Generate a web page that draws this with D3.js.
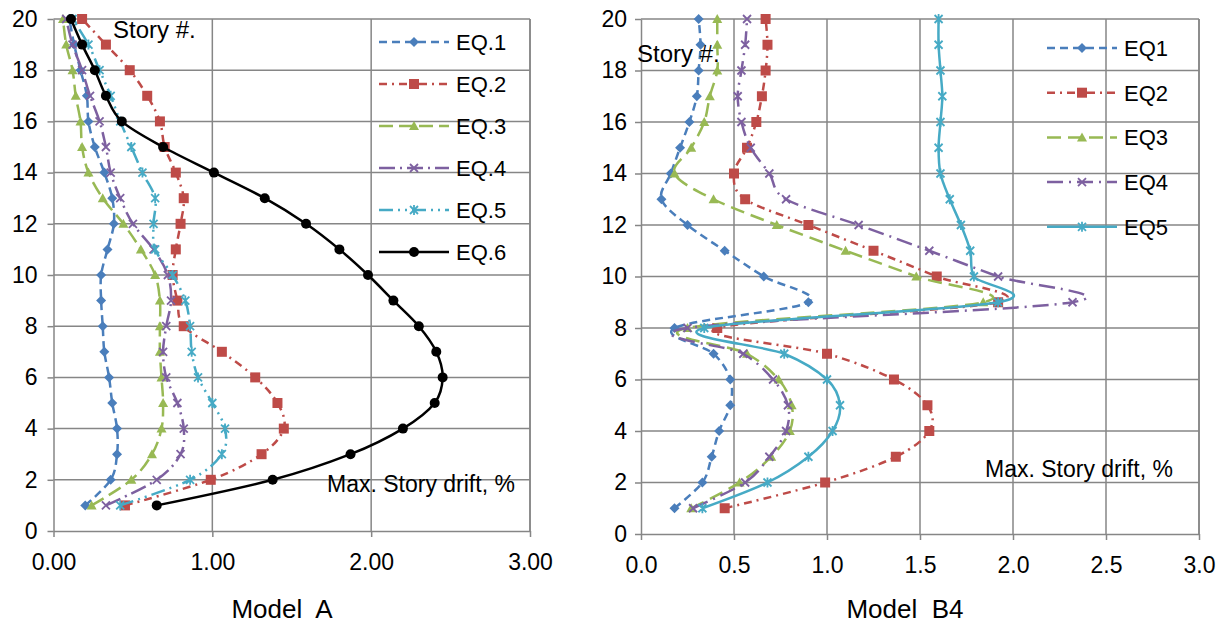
<!DOCTYPE html>
<html lang="en">
<head>
<meta charset="utf-8">
<title>Max. story drift - Model A / Model B4</title>
<style>
  body { margin: 0; background: #fff; font-family: "Liberation Sans", Arial, Helvetica, sans-serif; }
  .axis text { font-size: 23px; fill: #000; font-family: "Liberation Sans", Arial, sans-serif; }
  .axis path, .axis line { stroke: #868686; stroke-width: 1.5; }
</style>
</head>
<body>
<script src="https://cdnjs.cloudflare.com/ajax/libs/d3/7.8.5/d3.min.js"></script>
<script>
// story numbers 1..20 (values below are listed from story 1 upwards)
var stories = [1,2,3,4,5,6,7,8,9,10,11,12,13,14,15,16,17,18,19,20];
var yTicks = [0,2,4,6,8,10,12,14,16,18,20];

// Model A, max story drift %
var aNames = ["EQ.1","EQ.2","EQ.3","EQ.4","EQ.5","EQ.6"];
var aEQ1 = [0.20,0.36,0.40,0.40,0.37,0.35,0.32,0.31,0.30,0.30,0.34,0.38,0.37,0.32,0.26,0.22,0.21,0.17,0.13,0.10];
var aEQ2 = [0.45,0.99,1.31,1.45,1.41,1.27,1.06,0.82,0.78,0.75,0.77,0.80,0.82,0.77,0.70,0.67,0.59,0.48,0.33,0.18];
var aEQ3 = [0.24,0.49,0.62,0.68,0.69,0.68,0.67,0.67,0.67,0.64,0.55,0.44,0.31,0.22,0.18,0.17,0.14,0.12,0.08,0.06];
var aEQ4 = [0.33,0.65,0.80,0.82,0.78,0.71,0.69,0.71,0.74,0.72,0.63,0.50,0.42,0.36,0.33,0.29,0.23,0.18,0.12,0.08];
var aEQ5 = [0.42,0.86,1.06,1.08,1.00,0.91,0.87,0.86,0.83,0.75,0.64,0.63,0.64,0.56,0.49,0.42,0.36,0.29,0.22,0.12];
var aEQ6 = [0.65,1.38,1.87,2.20,2.40,2.45,2.41,2.30,2.14,1.98,1.80,1.59,1.33,1.01,0.69,0.43,0.33,0.26,0.18,0.11];
var aXTicks = [0,1,2,3];

// Model B4, max story drift %
var bNames = ["EQ1","EQ2","EQ3","EQ4","EQ5"];
var bEQ1 = [0.18,0.33,0.38,0.42,0.48,0.48,0.39,0.18,0.90,0.66,0.45,0.25,0.11,0.16,0.21,0.26,0.30,0.31,0.32,0.31];
var bEQ2 = [0.45,0.99,1.37,1.55,1.54,1.36,1.00,0.41,1.92,1.59,1.25,0.90,0.56,0.50,0.57,0.62,0.65,0.67,0.68,0.67];
var bEQ3 = [0.27,0.53,0.70,0.80,0.81,0.74,0.57,0.25,1.84,1.48,1.10,0.73,0.39,0.18,0.27,0.34,0.37,0.41,0.41,0.41];
var bEQ4 = [0.28,0.56,0.69,0.78,0.79,0.71,0.55,0.25,2.32,1.92,1.55,1.17,0.78,0.69,0.59,0.54,0.52,0.54,0.56,0.57];
var bEQ5 = [0.33,0.68,0.90,1.03,1.07,1.00,0.77,0.34,1.92,1.79,1.77,1.72,1.66,1.61,1.60,1.61,1.62,1.61,1.60,1.60];
var bXTicks = [0,0.5,1,1.5,2,2.5,3];

var grid = "#868686";
var blue = "#4a7ebb", red = "#be4b48", green = "#98b954", purple = "#7d60a0", teal = "#46aac5";

var svg = d3.select("body").append("svg")
  .attr("width", 1225)
  .attr("height", 629);

function drawMarker(g, type, cx, cy, color, s) {
  var h = s / 2;
  if (type == "diamond") {
    g.append("path").attr("d", "M" + cx + "," + (cy - h) + "L" + (cx + h) + "," + cy +
        "L" + cx + "," + (cy + h) + "L" + (cx - h) + "," + cy + "Z")
      .attr("fill", color);
  } else if (type == "square") {
    g.append("rect").attr("x", cx - h).attr("y", cy - h)
      .attr("width", s).attr("height", s).attr("fill", color);
  } else if (type == "triangle") {
    g.append("path").attr("d", "M" + cx + "," + (cy - h) + "L" + (cx + h) + "," + (cy + h * 0.8) +
        "L" + (cx - h) + "," + (cy + h * 0.8) + "Z")
      .attr("fill", color);
  } else if (type == "x") {
    g.append("path").attr("d", "M" + (cx - h) + "," + (cy - h) + "L" + (cx + h) + "," + (cy + h) +
        "M" + (cx - h) + "," + (cy + h) + "L" + (cx + h) + "," + (cy - h))
      .attr("stroke", color).attr("stroke-width", 1.8).attr("fill", "none");
  } else if (type == "star") {
    g.append("path").attr("d", "M" + (cx - h) + "," + (cy - h) + "L" + (cx + h) + "," + (cy + h) +
        "M" + (cx - h) + "," + (cy + h) + "L" + (cx + h) + "," + (cy - h) +
        "M" + cx + "," + (cy - h - 1) + "L" + cx + "," + (cy + h + 1))
      .attr("stroke", color).attr("stroke-width", 1.8).attr("fill", "none");
  } else if (type == "circle") {
    g.append("circle").attr("cx", cx).attr("cy", cy).attr("r", h).attr("fill", color);
  }
}

function drawPanel(p) {
  var xScale = d3.scaleLinear().domain([0, 3]).range([p.left, p.right]);
  var yScale = d3.scaleLinear().domain([0, 20]).range([p.bottom, p.top]);
  var g = svg.append("g");

  // gridlines
  g.selectAll(".hgrid").data(yTicks.filter(function(d) { return d > 0; }))
    .enter().append("line")
    .attr("x1", p.left).attr("x2", p.right)
    .attr("y1", function(d) { return yScale(d); })
    .attr("y2", function(d) { return yScale(d); })
    .attr("stroke", grid).attr("stroke-width", 1.5);
  g.selectAll(".vgrid").data(p.xTicks.filter(function(d) { return d > 0; }))
    .enter().append("line")
    .attr("y1", p.top).attr("y2", p.bottom)
    .attr("x1", function(d) { return xScale(d); })
    .attr("x2", function(d) { return xScale(d); })
    .attr("stroke", grid).attr("stroke-width", 1.5);

  g.append("g").attr("class", "axis")
    .attr("transform", "translate(0," + p.bottom + ")")
    .call(d3.axisBottom(xScale).tickValues(p.xTicks).tickFormat(d3.format(p.fmt))
      .tickSize(6).tickSizeOuter(0).tickPadding(17));
  g.append("g").attr("class", "axis")
    .attr("transform", "translate(" + p.left + ",0)")
    .call(d3.axisLeft(yScale).tickValues(yTicks).tickSize(6).tickSizeOuter(0).tickPadding(p.yPad));

  var line = d3.line().curve(d3.curveCatmullRom.alpha(0));

  p.series.forEach(function(s) {
    var pts = s.values.map(function(v, i) { return [xScale(v), yScale(stories[i])]; });
    g.append("path")
      .attr("d", line(pts))
      .attr("fill", "none")
      .attr("stroke", s.color)
      .attr("stroke-width", 2.5)
      .attr("stroke-dasharray", s.dash);
    pts.forEach(function(pt) { drawMarker(g, s.marker, pt[0], pt[1], s.color, s.size); });
  });

  // legend
  p.series.forEach(function(s, i) {
    var ly = p.legY + i * p.legStep;
    g.append("line")
      .attr("x1", p.legX).attr("x2", p.legX + 70)
      .attr("y1", ly).attr("y2", ly)
      .attr("stroke", s.color).attr("stroke-width", 2.5)
      .attr("stroke-dasharray", s.dash);
    drawMarker(g, s.marker, p.legX + 35, ly, s.color, s.size);
    g.append("text")
      .attr("x", p.legX + 77).attr("y", ly + 8)
      .style("font-size", "22px")
      .text(s.name);
  });

  g.append("text").attr("x", p.storyX).attr("y", p.storyY)
    .style("font-size", "24px").text("Story #.");
  g.append("text").attr("x", p.driftX).attr("y", p.driftY)
    .style("font-size", "23px").text("Max. Story drift, %");
  g.append("text").attr("x", p.titleX).attr("y", 618)
    .attr("text-anchor", "middle")
    .style("font-size", "26px").style("white-space", "pre")
    .attr("xml:space", "preserve")
    .text(p.title);

  // plot area right border
  g.append("line").attr("x1", p.right).attr("x2", p.right)
    .attr("y1", p.top).attr("y2", p.bottom)
    .attr("stroke", grid).attr("stroke-width", 1.5);
}

drawPanel({
  left: 53.5, right: 530, top: 19, bottom: 531,
  xTicks: aXTicks, fmt: ".2f", yPad: 10,
  title: "Model  A", titleX: 282,
  storyX: 113, storyY: 38, driftX: 327, driftY: 492,
  legX: 379, legY: 42, legStep: 42,
  series: [
    { name: aNames[0], values: aEQ1, color: blue, dash: "8,5", marker: "diamond", size: 10 },
    { name: aNames[1], values: aEQ2, color: red, dash: "8,5,2,5", marker: "square", size: 10 },
    { name: aNames[2], values: aEQ3, color: green, dash: "14,6", marker: "triangle", size: 10 },
    { name: aNames[3], values: aEQ4, color: purple, dash: "16,5,2,5", marker: "x", size: 8 },
    { name: aNames[4], values: aEQ5, color: teal, dash: "14,5,2,5,2,5", marker: "star", size: 8 },
    { name: aNames[5], values: aEQ6, color: "#000", dash: null, marker: "circle", size: 10 }
  ]
});

drawPanel({
  left: 641, right: 1199, top: 19, bottom: 534,
  xTicks: bXTicks, fmt: ".1f", yPad: 8,
  title: "Model  B4", titleX: 905,
  storyX: 637, storyY: 62, driftX: 985, driftY: 477,
  legX: 1047, legY: 48, legStep: 44.7,
  series: [
    { name: bNames[0], values: bEQ1, color: blue, dash: "8,5", marker: "diamond", size: 10 },
    { name: bNames[1], values: bEQ2, color: red, dash: "8,5,2,5", marker: "square", size: 10 },
    { name: bNames[2], values: bEQ3, color: green, dash: "14,7", marker: "triangle", size: 10 },
    { name: bNames[3], values: bEQ4, color: purple, dash: "16,6,2,6", marker: "x", size: 8 },
    { name: bNames[4], values: bEQ5, color: teal, dash: null, marker: "star", size: 8 }
  ]
});
</script>
</body>
</html>
